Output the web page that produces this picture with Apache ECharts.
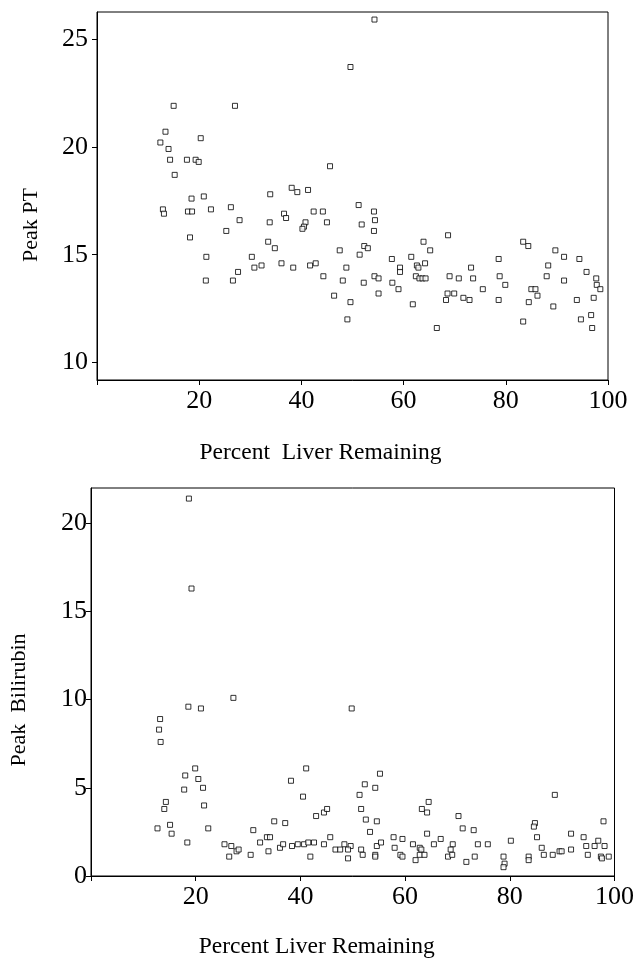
<!DOCTYPE html>
<html><head><meta charset="utf-8">
<script src="https://cdn.jsdelivr.net/npm/echarts@6/dist/echarts.min.js"></script>
<style>html,body{margin:0;padding:0;background:#fff}#c{width:637px;height:960px}</style>
</head><body><div id="c"></div>
<script>
// Top panel: Peak PT vs Percent Liver Remaining
const ptPercent=[15.0,27.0,13.4,20.3,12.4,14.0,14.3,17.6,19.3,19.9,15.2,18.5,20.9,33.9,38.1,39.2,41.3,12.9,13.1,17.8,18.6,22.3,18.2,26.2,27.9,25.3,21.4,21.3,26.6,27.6,30.3,30.8,32.2,33.8,33.5,34.8,36.1,36.6,37.0,38.4,42.4,40.8,40.5,40.2,41.7,42.8,54.3,49.6,45.6,44.2,45.0,51.2,54.2,51.8,54.4,54.2,47.5,52.3,53.0,51.4,44.3,48.8,48.1,46.4,49.6,49.0,52.2,54.3,55.1,55.1,57.7,57.8,59.0,59.3,59.3,61.5,61.8,62.6,62.9,62.4,63.1,63.7,64.3,64.2,63.9,65.2,66.5,68.7,69.0,68.6,68.3,69.9,70.8,71.7,72.9,73.2,73.6,75.5,78.6,78.8,78.6,79.9,83.4,84.4,83.4,84.5,85.0,85.8,86.2,88.0,88.3,89.7,89.3,91.4,91.4,94.4,93.9,94.7,95.8,97.7,97.8,98.5,97.2,96.7,96.9];
const ptPeak=[21.9,21.9,20.7,20.4,20.2,19.9,19.4,19.4,19.4,19.3,18.7,17.6,17.7,17.8,18.1,17.9,18.0,17.1,16.9,17.0,17.0,17.1,15.8,17.2,16.6,16.1,14.9,13.8,13.8,14.2,14.9,14.4,14.5,16.5,15.6,15.3,14.6,16.9,16.7,14.4,17.0,16.5,16.3,16.2,14.5,14.6,25.9,23.7,19.1,17.0,16.5,17.3,17.0,16.4,16.6,16.1,15.2,15.4,15.3,15.0,14.0,14.4,13.8,13.1,12.8,12.0,13.7,14.0,13.9,13.2,14.8,13.7,13.4,14.4,14.2,14.9,12.7,14.5,14.4,14.0,13.9,13.9,13.9,14.6,15.6,15.2,11.6,15.9,14.0,13.2,12.9,13.2,13.9,13.0,12.9,14.4,13.9,13.4,14.8,14.0,12.9,13.6,15.6,15.4,11.9,12.8,13.4,13.4,13.1,14.0,14.5,15.2,12.6,14.9,13.8,14.8,12.9,12.0,14.2,13.9,13.6,13.4,13.0,12.2,11.6];

// Bottom panel: Peak Bilirubin vs Percent Liver Remaining
const biliPercent=[18.7,19.2,27.2,18.6,21.0,13.2,13.0,13.3,19.9,18.0,20.5,17.8,21.4,14.3,14.0,21.6,15.1,12.7,15.4,22.4,18.4,25.5,26.8,26.4,27.8,28.2,31.0,30.5,32.3,33.6,34.2,33.9,35.0,37.1,38.2,36.1,36.7,38.4,39.5,40.5,41.1,40.7,41.5,42.6,41.9,43.0,49.8,55.2,52.3,51.3,54.3,44.5,45.1,51.6,52.5,54.6,53.3,45.7,44.5,46.7,47.6,48.4,49.6,49.1,49.1,51.6,51.9,54.6,55.4,54.3,54.3,57.8,59.5,58.0,59.1,59.5,61.5,62.0,62.8,63.1,62.8,63.7,63.2,64.2,64.5,64.2,65.5,66.8,69.1,68.7,68.2,69.0,70.2,71.0,73.1,71.7,73.3,73.9,75.8,78.8,79.0,78.8,80.2,83.6,83.6,84.8,84.6,85.2,86.1,86.5,88.2,88.6,89.5,89.9,91.7,91.7,94.1,94.6,94.9,96.2,96.9,97.9,98.1,97.4,97.6,98.9];
const biliPeak=[21.4,16.3,10.1,9.6,9.5,8.9,8.3,7.6,6.1,5.7,5.5,4.9,5.0,4.2,3.8,4.0,2.9,2.7,2.4,2.7,1.9,1.8,1.7,1.1,1.4,1.5,2.6,1.2,1.9,2.2,2.2,1.4,3.1,3.0,5.4,1.6,1.8,1.7,1.8,4.5,6.1,1.8,1.9,1.9,1.1,3.4,9.5,5.8,5.2,4.6,5.0,3.6,3.8,3.8,3.2,3.1,2.5,2.2,1.8,1.5,1.5,1.8,1.7,1.5,1.0,1.5,1.2,1.7,1.9,1.2,1.1,2.2,2.1,1.6,1.2,1.1,1.8,0.9,1.6,1.5,1.2,1.2,3.8,3.6,4.2,2.4,1.8,2.1,1.8,1.5,1.1,1.2,3.4,2.7,2.6,0.8,1.1,1.8,1.8,1.1,0.7,0.5,2.0,1.1,0.9,3.0,2.8,2.2,1.6,1.2,1.2,4.6,1.4,1.4,2.4,1.5,2.2,1.7,1.2,1.7,2.0,3.1,1.7,1.1,1.0,1.1];

// Tick values / labels
const xTickValues=[0,20,40,60,80,100];
const xLabelValues=[20,40,60,80,100];
const ptTickValues=[10,15,20,25];
const biliTickValues=[0,5,10,15,20];

const FONT='"Liberation Serif","DejaVu Serif",serif';
const zip=(a,b)=>a.map((v,i)=>[v,b[i]]);

function makeX(gridIndex,name,gap,pad){
  return {type:'value',gridIndex,min:0,max:100,name,nameLocation:'middle',nameGap:gap,
    nameTextStyle:{fontFamily:FONT,fontSize:23.5,color:'#000',padding:pad},
    axisLine:{show:true,lineStyle:{color:'#000',width:1}},
    axisTick:{show:true,customValues:xTickValues,length:5,lineStyle:{color:'#000'}},
    axisLabel:{customValues:xLabelValues,fontFamily:FONT,fontSize:26,color:'#000',margin:8},
    splitLine:{show:false}};
}
function makeY(gridIndex,name,min,max,ticks,gap,pad,margin){
  return {type:'value',gridIndex,min,max,name,nameLocation:'middle',nameGap:gap,
    nameTextStyle:{fontFamily:FONT,fontSize:22,color:'#000',padding:pad},
    axisLine:{show:true,lineStyle:{color:'#000',width:1}},
    axisTick:{show:true,customValues:ticks,length:5,lineStyle:{color:'#000'}},
    axisLabel:{customValues:ticks,fontFamily:FONT,fontSize:26,color:'#000',margin},
    splitLine:{show:false}};
}
const markerStyle={color:'#fff',borderColor:'#000',borderWidth:1};

const chart=echarts.init(document.getElementById('c'));
chart.setOption({
  animation:false,
  backgroundColor:'#fff',
  grid:[
    {left:97,top:12,width:511,height:368,show:true,borderColor:'#000',borderWidth:1,backgroundColor:'transparent'},
    {left:90,top:488,width:532,height:390,show:true,borderColor:'#000',borderWidth:1,backgroundColor:'transparent'}
  ],
  xAxis:[
    makeX(0,'Percent  Liver Remaining',61,[0,64,0,0]),
    makeX(1,'Percent Liver Remaining',59,[0,72,0,0])
  ],
  yAxis:[
    makeY(0,'Peak PT',9.19,26.25,ptTickValues,55,[0,58,0,0],9),
    makeY(1,'Peak  Bilirubin',0,22,biliTickValues,61,[0,36,0,0],4)
  ],
  series:[
    {type:'scatter',xAxisIndex:0,yAxisIndex:0,data:zip(ptPercent,ptPeak),symbol:'rect',symbolSize:5,itemStyle:markerStyle,emphasis:{disabled:true}},
    {type:'scatter',xAxisIndex:1,yAxisIndex:1,data:zip(biliPercent,biliPeak),symbol:'rect',symbolSize:5,itemStyle:markerStyle,emphasis:{disabled:true}}
  ]
});
</script></body></html>
